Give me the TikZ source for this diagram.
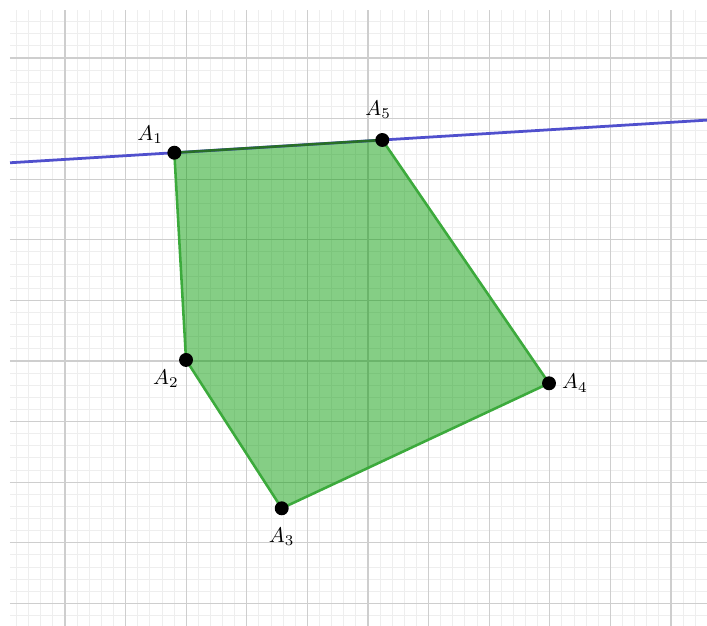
\documentclass[tikz,border=0pt]{standalone}
\usepackage{amsmath}
\usepackage{tikz}
\usetikzlibrary{positioning,calc}
\definecolor{gridmajor}{RGB}{206,206,206}
\definecolor{gridminor}{RGB}{238,238,238}
\definecolor{polyfill}{RGB}{0,153,0}
\definecolor{polyedge}{RGB}{60,170,60}
\definecolor{lineblue}{RGB}{80,80,205}
\tikzset{
    vertex/.style={circle, fill=black, inner sep=0pt, minimum size=0.23cm},
    side/.style={line width=1.2pt, polyedge},
    axisline/.style={line width=1.3pt, lineblue},
    vlabel/.style={font=\normalsize, inner sep=1.5pt},
    minorline/.style={gridminor, line width=0.45pt},
    majorline/.style={gridmajor, line width=0.5pt},
}

\begin{document}
\begin{tikzpicture}
    \useasboundingbox (-1.073,-9.373) rectangle (10.594,0.957);
    % grid
    \foreach \k in {-4,...,52} {
        \pgfmathtruncatemacro{\r}{mod(\k+100,5)}
        \ifnum\r=0\else
            \draw[minorline] (\k/5,-9.373) -- (\k/5,0.792);
        \fi
    }
    \foreach \k in {-46,...,3} {
        \pgfmathtruncatemacro{\r}{mod(\k+100,5)}
        \ifnum\r=0\else
            \draw[minorline] (-0.908,\k/5) -- (10.594,\k/5);
        \fi
    }
    \foreach \x in {0,...,10} \draw[majorline] (\x,-9.373) -- (\x,0.792);
    \foreach \y in {-9,...,0} \draw[majorline] (-0.908,\y) -- (10.594,\y);

    % vertices
    \foreach \i/\x/\y in {1/1.804/-1.563, 2/1.997/-4.983, 3/3.576/-7.431,
                          4/7.987/-5.368, 5/5.236/-1.353} {
        \coordinate (P\i) at (\x,\y);
    }

    % polygon
    \fill[polyfill, fill opacity=0.48] (P1) -- (P2) -- (P3) -- (P4) -- (P5) -- cycle;

    % line through A1 and A5
    \coordinate (L) at ($(P1)!-0.79!(P5)$);
    \coordinate (R) at ($(P1)!2.561!(P5)$);
    \draw[axisline] (L) -- (R);

    % sides
    \draw[side] (P1) -- (P2);
    \draw[side] (P2) -- (P3);
    \draw[side] (P3) -- (P4);
    \draw[side] (P4) -- (P5);
    \draw[side, polyedge!65!black] (P5) -- (P1);

    % points
    \foreach \i/\ang/\dist/\dx in {1/145/1pt/0pt, 2/240/0pt/0pt, 3/270/4pt/0pt,
                                   4/0/1pt/0pt, 5/90/5pt/-2pt} {
        \node[vertex, label={[vlabel, name=l\i, label distance=\dist, xshift=\dx]\ang:$A_{\i}$}] (A\i) at (P\i) {};
    }
\end{tikzpicture}
\end{document}
